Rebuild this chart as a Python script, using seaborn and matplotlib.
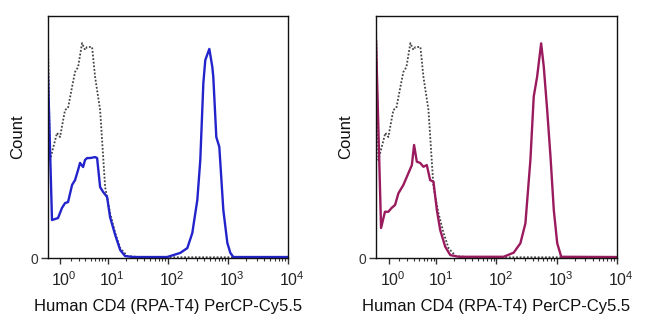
import numpy as np
import pandas as pd
import matplotlib
matplotlib.use("Agg")
import matplotlib.pyplot as plt
import matplotlib.transforms as mtrans
from matplotlib.ticker import FixedLocator, NullFormatter
import seaborn as sns

# ---------------- data (intensity, % of max) ----------------
ctrl_x = [0, 0.18, 0.73, 0.98, 1.43, 1.72, 2.15, 2.5, 2.89, 3.46, 3.94, 4.3, 5.29,
          5.98, 7.31, 8.91, 10.8, 13.2, 16.0, 21.0, 34.5, 100, 1000, 10000]
ctrl_y = [96.0, 40.5, 51.7, 50.0, 61.2, 62.0, 70.7, 76.9, 78.9, 88.8, 86.0, 87.2, 87.2,
          74.8, 61.2, 29.3, 18.6, 10.3, 4.1, 0.8, 0.4, 0.3, 0.3, 0.3]

blue_x = [0, 0.33, 0.81, 1.15, 1.43, 1.72, 2.15, 2.5, 2.89, 3.16, 3.62, 3.94, 4.3, 4.87,
          5.98, 6.48, 7.31, 8.23, 9.63, 10.8, 13.2, 16.0, 19.3, 26.4, 97, 160, 210, 254,
          308, 345, 388, 418, 488, 547, 568, 637, 715, 834, 973, 1091, 1224, 10000]
blue_y = [79.8, 15.7, 16.5, 20.7, 22.7, 23.1, 30.2, 32.2, 36.4, 39.3, 37.6, 40.5, 41.3, 41.3,
          41.7, 41.3, 29.3, 27.3, 25.2, 16.9, 9.5, 3.3, 0.8, 0.4, 0.4, 2.1, 4.1, 10.3,
          24.0, 40.5, 72.3, 81.8, 86.4, 78.9, 74.8, 50.0, 45.9, 19.8, 6.2, 2.1, 0.4, 0.4]

mag_x = [0, 0.39, 0.70, 0.98, 1.27, 1.59, 1.93, 2.5, 3.16, 3.69, 4.06, 4.56, 5.22, 5.98,
         6.85, 7.81, 8.91, 10.17, 11.57, 14.05, 17.1, 23.5, 73.6, 132, 194, 251, 304,
         368, 418, 476, 555, 614, 699, 794, 901, 1027, 1197, 10000]
mag_y = [90.0, 12.4, 19.1, 19.1, 20.7, 21.9, 26.7, 30.2, 35.0, 38.4, 46.7, 39.8, 39.3, 37.7,
         38.4, 32.2, 31.5, 19.8, 11.6, 4.7, 1.2, 0.5, 0.5, 0.5, 2.2, 6.1, 14.3,
         40.5, 66.7, 74.9, 88.7, 79.0, 61.2, 41.9, 19.8, 6.1, 0.5, 0.4]

major_ticks = [1, 10, 100, 1000, 10000]
major_labels = ["$10^{0}$", "$10^{1}$", "$10^{2}$", "$10^{3}$", "$10^{4}$"]
x_title = "Human CD4 (RPA-T4) PerCP-Cy5.5"
y_title = "Count"

# ---------------- style ----------------
sns.set_style("white")
plt.rcParams["font.family"] = ["Liberation Sans", "DejaVu Sans"]
plt.rcParams["mathtext.fontset"] = "custom"
plt.rcParams["mathtext.rm"] = "Liberation Sans"
plt.rcParams["mathtext.it"] = "Liberation Sans:italic"
plt.rcParams["mathtext.bf"] = "Liberation Sans:bold"


def fwd(x):
    return np.arcsinh(np.asarray(x, dtype=float) / 2.0)


def inv(y):
    return 2.0 * np.sinh(np.asarray(y, dtype=float))


minor_ticks = [k * 10 ** n for n in range(0, 4) for k in range(2, 10)]

fig = plt.figure(figsize=(6.49, 3.36), dpi=100)
W, H = 649.0, 336.0
ax1 = fig.add_axes([47.7 / W, 1 - 258 / H, 240.5 / W, 242 / H])
ax2 = fig.add_axes([376.0 / W, 1 - 258 / H, 240.7 / W, 242 / H])

ctrl = pd.DataFrame({"x": ctrl_x, "y": ctrl_y})
blue = pd.DataFrame({"x": blue_x, "y": blue_y})
mag = pd.DataFrame({"x": mag_x, "y": mag_y})

for ax, df, col in [(ax1, blue, "#2323cc"), (ax2, mag, "#9a1a5e")]:
    ax.set_xscale("function", functions=(fwd, inv))
    sns.lineplot(data=ctrl, x="x", y="y", ax=ax, sort=False, estimator=None,
                 color="#444444", lw=1.3, linestyle=(0, (1, 1)))
    sns.lineplot(data=df, x="x", y="y", ax=ax, sort=False, estimator=None,
                 color=col, lw=1.7)
    ax.set_xlim(0, 10000)
    ax.set_ylim(0, 100)
    ax.xaxis.set_major_locator(FixedLocator(major_ticks))
    ax.set_xticklabels(major_labels)
    ax.xaxis.set_minor_locator(FixedLocator(minor_ticks))
    ax.xaxis.set_minor_formatter(NullFormatter())
    ax.set_yticks([0])
    ax.set_yticklabels(["0"])
    ax.tick_params(axis="x", which="major", direction="out", length=4, width=1,
                   color="#333333", labelsize=11.5, labelcolor="#222222", pad=5,
                   bottom=True)
    ax.tick_params(axis="x", which="minor", direction="out", length=2.5, width=0.8,
                   color="#333333", bottom=True)
    ax.tick_params(axis="y", which="major", direction="out", length=5, width=1,
                   color="#333333", labelsize=10, labelcolor="#333333", pad=2, left=True)
    off = mtrans.ScaledTranslation(4 / 100, 0, fig.dpi_scale_trans)
    for lab in ax.get_xticklabels():
        lab.set_transform(lab.get_transform() + off)
    for s in ax.spines.values():
        s.set_visible(True)
        s.set_color("#111111")
        s.set_linewidth(1.0)
    ax.set_xlabel(x_title, fontsize=12, labelpad=7, color="#111111")
    ax.set_ylabel(y_title, fontsize=12, labelpad=4, color="#111111")

fig.savefig("out.png", dpi=100)
